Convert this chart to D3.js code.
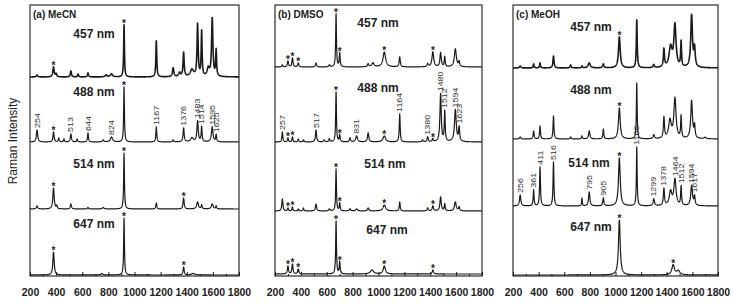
<!DOCTYPE html>
<html>
<head>
  <script src="https://cdn.jsdelivr.net/npm/d3@7"></script>
  <style>
    body { margin: 0; background: #fff; }
    text { font-family: Arial, "Liberation Sans", sans-serif; }
  </style>
</head>
<body>
  <svg width="736" height="306" id="mainsvg"></svg>
  <script>
    // tick values and laser lines
    const xTicks = [200, 400, 600, 800, 1000, 1200, 1400, 1600, 1800];
    const xMinor = [300, 500, 700, 900, 1100, 1300, 1500, 1700];
    const lasers = ['457 nm', '488 nm', '514 nm', '647 nm'];

    // peaks: [wavenumber, height, half width]
    // (a) MeCN
    const mecnOffsets = [199, 134, 67, 1];
    const mecn457 = [[254, 2, 6], [380, 10, 6], [400, 3, 5], [513, 6, 5], [568, 3, 4], [644, 4, 5], [782, 2, 8], [824, 3, 10], [920, 52, 3.5], [1167, 36, 4], [1296, 9, 6], [1345, 4, 8], [1376, 24, 5], [1440, 7, 15], [1483, 52, 5], [1514, 45, 4], [1565, 8, 10], [1595, 58, 6], [1625, 26, 4]];
    const mecn488 = [[254, 12, 6], [380, 10, 5], [420, 4, 4], [460, 3, 4], [513, 8, 5], [560, 3, 4], [644, 9, 4], [760, 2, 6], [824, 5, 10], [920, 55, 3.5], [1167, 15, 4], [1296, 2, 5], [1376, 14, 5], [1440, 4, 12], [1483, 21, 6], [1514, 15, 4], [1595, 15, 7], [1625, 7, 4]];
    const mecn514 = [[254, 3, 6], [380, 21, 6], [405, 3, 4], [513, 5, 5], [644, 1.5, 5], [760, 1.5, 8], [920, 56, 3.5], [1167, 6, 4], [1376, 11, 5], [1483, 7, 8], [1514, 4, 4], [1595, 5, 8], [1625, 3, 4]];
    const mecn647 = [[380, 23, 6], [750, 1.5, 8], [920, 57, 3.5], [1376, 8, 5], [1450, 1.5, 15]];
    const mecnStars = [[380, 920], [380, 920], [380, 920, 1376], [380, 920, 1376]];
    const mecnLabels = [[], [254, 513, 644, 824, 1167, 1376, 1483, 1514, 1595, 1625], [], []];

    // (b) DMSO
    const dmsoOffsets = [209, 134, 65, 2];
    const dmso457 = [[257, 2, 5], [300, 6, 5], [335, 9, 5], [380, 4, 5], [517, 4, 5], [620, 2, 5], [672, 53, 3.5], [700, 14, 4], [920, 3, 6], [957, 4, 10], [1045, 15, 12], [1164, 10, 5], [1380, 3, 6], [1420, 15, 8], [1480, 14, 6], [1512, 10, 4], [1594, 18, 9], [1623, 5, 5]];
    const dmso488 = [[257, 10, 4], [300, 4, 4], [335, 5, 4], [380, 3, 4], [420, 2, 4], [517, 12, 5], [580, 2, 5], [620, 3, 5], [672, 50, 3.5], [700, 7, 4], [780, 4, 5], [831, 6, 8], [920, 9, 6], [1045, 6, 12], [1164, 28, 4], [1340, 2, 5], [1380, 5, 5], [1420, 3, 5], [1480, 48, 6], [1512, 30, 4], [1594, 32, 8], [1623, 14, 5]];
    const dmso514 = [[257, 12, 5], [300, 3, 4], [335, 4, 4], [380, 2, 4], [420, 3, 4], [517, 7, 5], [620, 2, 5], [672, 42, 3.5], [700, 8, 4], [780, 2, 6], [831, 2, 8], [920, 3, 6], [1045, 6, 12], [1164, 9, 4], [1380, 3, 5], [1420, 5, 6], [1480, 14, 6], [1512, 7, 4], [1594, 9, 8], [1623, 4, 5]];
    const dmso647 = [[300, 8, 5], [335, 10, 5], [380, 5, 5], [672, 53, 3.5], [700, 12, 4], [950, 4, 15], [1045, 8, 10], [1420, 4, 6]];
    const dmsoStars = [[300, 335, 380, 672, 700, 1045, 1420], [300, 335, 672, 700, 1045, 1420], [300, 335, 672, 700, 1045, 1420], [300, 335, 380, 672, 700, 1045, 1420]];
    const dmsoLabels = [[], [257, 517, 831, 1164, 1380, 1480, 1512, 1594, 1623], [], []];

    // (c) MeOH
    const meohOffsets = [208, 137, 70, 1];
    const meoh457 = [[256, 2, 6], [361, 4, 4], [411, 5, 4], [516, 12, 5], [650, 3, 5], [738, 2, 4], [795, 5, 10], [905, 4, 6], [1030, 31, 8], [1166, 48, 4], [1299, 3, 6], [1378, 18, 5], [1430, 20, 14], [1464, 42, 10], [1512, 25, 4], [1594, 52, 8], [1617, 18, 6]];
    const meoh488 = [[256, 2, 5], [361, 8, 4], [411, 13, 4], [516, 23, 4], [650, 2, 4], [738, 3, 4], [795, 8, 6], [905, 10, 4], [1030, 31, 8], [1166, 56, 3.5], [1299, 4, 6], [1378, 21, 5], [1425, 18, 12], [1464, 40, 10], [1512, 22, 4], [1594, 38, 8], [1617, 12, 5], [1700, 1.5, 8]];
    const meoh514 = [[256, 11, 6], [361, 16, 4], [411, 39, 4], [516, 44, 4], [738, 8, 3], [795, 14, 6], [905, 8, 5], [1030, 48, 8], [1166, 59, 3.5], [1299, 7, 6], [1378, 17, 5], [1430, 14, 12], [1464, 26, 10], [1512, 19, 4], [1594, 20, 8], [1617, 9, 5]];
    const meoh647 = [[1030, 55, 8], [1450, 10, 12], [1490, 4, 15]];
    const meohStars = [[1030], [1030], [1030], [1030, 1450]];
    const meohLabels = [[], [], [256, 361, 411, 516, 795, 905, 1166, 1299, 1378, 1464, 1512, 1594, 1617], []];

    // layout of the three panels (pixels)
    const panels = [
      { title: '(a) MeCN', left: 30, right: 239, spectra: [mecn457, mecn488, mecn514, mecn647], offsets: mecnOffsets, stars: mecnStars, labels: mecnLabels,
        laserPos: [[94, 34], [94, 92], [94, 164], [94, 224]], noisy: [true, false, false, false] },
      { title: '(b) DMSO', left: 275, right: 482, spectra: [dmso457, dmso488, dmso514, dmso647], offsets: dmsoOffsets, stars: dmsoStars, labels: dmsoLabels,
        laserPos: [[378, 23], [378, 88], [385, 164], [387, 230]], noisy: [false, false, false, false] },
      { title: '(c) MeOH', left: 513, right: 718, spectra: [meoh457, meoh488, meoh514, meoh647], offsets: meohOffsets, stars: meohStars, labels: meohLabels,
        laserPos: [[591, 27], [591, 90], [589, 163], [591, 227]], noisy: [true, false, false, false] }
    ];
    const plotTop = 5, plotBottom = 276;
    const ink = '#1a1a1a';

    const svg = d3.select('#mainsvg');

    // lorentzian sum of the peaks at wavenumber x
    const intensity = (peaks, offset, x) =>
      offset + d3.sum(peaks, p => p[1] * p[2] * p[2] / ((x - p[0]) * (x - p[0]) + p[2] * p[2]));

    const grid = d3.range(200, 1800.5, 1);

    panels.forEach(pn => {
      const xScale = d3.scaleLinear().domain([200, 1800]).range([pn.left, pn.right]);
      const yScale = d3.scaleLinear().domain([0, plotBottom - plotTop]).range([plotBottom, plotTop]);
      const g = svg.append('g');

      const line = d3.line().x(d => xScale(d[0])).y(d => yScale(d[1]));

      pn.spectra.forEach((peaks, i) => {
        const off = pn.offsets[i];
        const pts = grid.map(x => [x, intensity(peaks, off, x)]);
        g.append('path')
          .attr('d', line(pts))
          .attr('fill', 'none')
          .attr('stroke', ink)
          .attr('stroke-width', pn.noisy[i] ? 1.6 : 1.2)
          .attr('stroke-linejoin', 'round');

        // stars on solvent bands
        g.selectAll(null).data(pn.stars[i]).enter().append('text')
          .attr('x', d => xScale(d))
          .attr('y', d => yScale(intensity(peaks, off, d)) + 2.5)
          .attr('text-anchor', 'middle')
          .attr('font-size', 10)
          .attr('font-weight', 'bold')
          .attr('fill', '#222')
          .text('*');

        // band positions, tall narrow numbers
        g.selectAll(null).data(pn.labels[i]).enter().append('text')
          .attr('transform', d => `translate(${xScale(d)},${yScale(intensity(peaks, off, d)) - 2}) rotate(-90) scale(1.22,1)`)
          .attr('dy', '0.35em')
          .attr('font-size', 7.3)
          .attr('fill', '#333')
          .text(d => d);

        g.append('text')
          .attr('x', pn.laserPos[i][0])
          .attr('y', pn.laserPos[i][1] + 4.3)
          .attr('text-anchor', 'middle')
          .attr('font-size', 12)
          .attr('font-weight', 'bold')
          .attr('fill', '#222')
          .text(lasers[i]);
      });

      // frame
      g.append('rect')
        .attr('x', pn.left).attr('y', plotTop)
        .attr('width', pn.right - pn.left).attr('height', plotBottom - plotTop)
        .attr('fill', 'none').attr('stroke', ink).attr('stroke-width', 1.1);

      g.append('text')
        .attr('x', pn.left + 3).attr('y', plotTop + 13)
        .attr('font-size', 10).attr('font-weight', 'bold').attr('fill', '#222')
        .text(pn.title);

      // axes with inward ticks
      const xAxis = d3.axisBottom(xScale).tickValues(xTicks).tickSize(-4).tickPadding(13).tickFormat(d3.format('d'));
      const ax = g.append('g').attr('transform', `translate(0,${plotBottom})`).call(xAxis);
      ax.select('.domain').remove();
      ax.selectAll('line').attr('stroke', ink);
      ax.selectAll('text').attr('font-size', 10.5).attr('font-weight', 'bold').attr('fill', '#222')
        .style('font-family', 'Arial, "Liberation Sans", sans-serif');

      const mAxis = d3.axisBottom(xScale).tickValues(xMinor).tickSize(-2).tickFormat('');
      const mx = g.append('g').attr('transform', `translate(0,${plotBottom})`).call(mAxis);
      mx.select('.domain').remove();
      mx.selectAll('line').attr('stroke', ink);
    });

    svg.append('text')
      .attr('transform', 'translate(13,141) rotate(-90)')
      .attr('text-anchor', 'middle')
      .attr('dy', '0.35em')
      .attr('font-size', 12)
      .attr('fill', '#222')
      .text('Raman Intensity');
  </script>
</body>
</html>
